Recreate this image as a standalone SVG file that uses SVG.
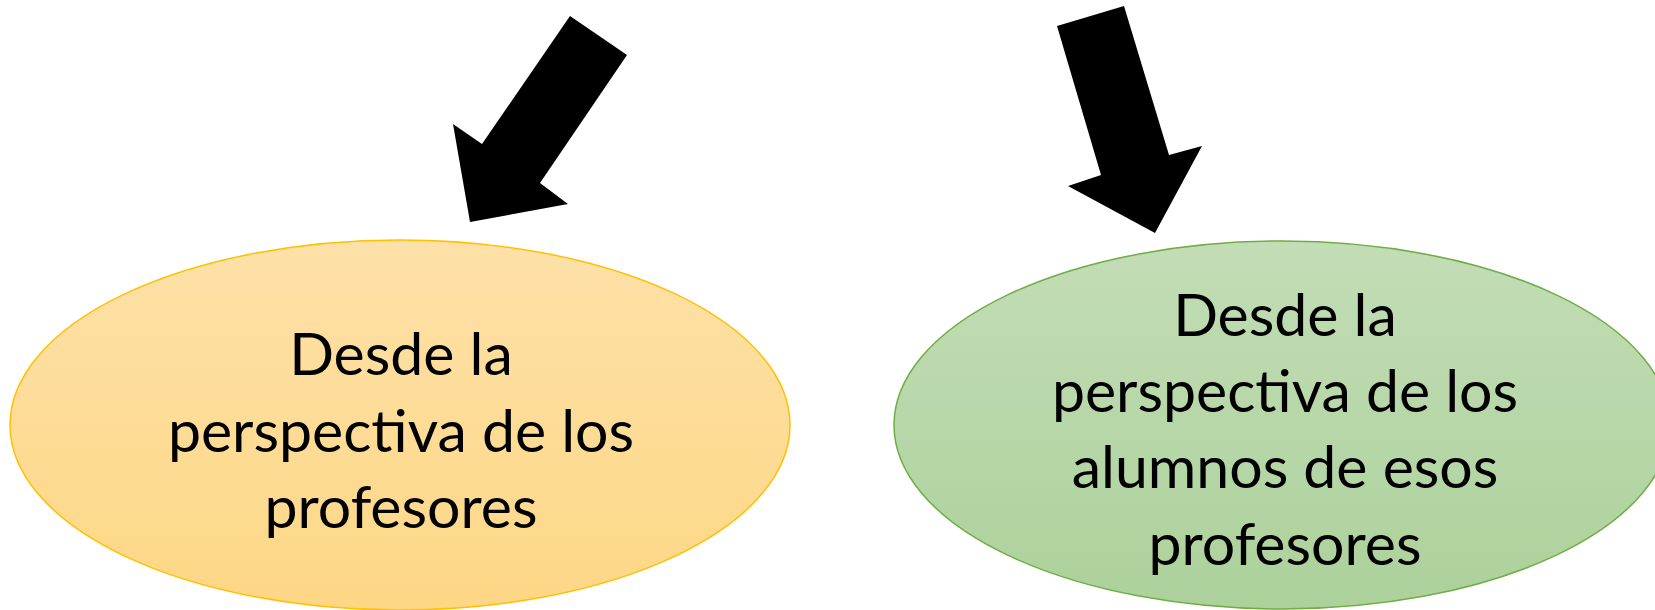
<svg xmlns="http://www.w3.org/2000/svg" width="1655" height="610" viewBox="0 0 1655 610">
<defs>
<linearGradient id="gOrange" x1="0" y1="0" x2="0" y2="1">
<stop offset="0" stop-color="#FDE1A8"/>
<stop offset="1" stop-color="#FDD785"/>
</linearGradient>
<linearGradient id="gGreen" x1="0" y1="0" x2="0" y2="1">
<stop offset="0" stop-color="#C3DDB6"/>
<stop offset="1" stop-color="#ACD19B"/>
</linearGradient>
<style>
.lbl{font-family:Lato,"Open Sans","Liberation Sans",sans-serif;font-size:59px;fill:#000;text-anchor:middle}
.arrow{fill:#000;stroke:none}
</style>
</defs>
<rect width="1655" height="610" fill="#fff"/>
<g id="connectors">
<polygon class="arrow" points="570,16 627,55 540,183 568,204 470,222 453,124 482,144"/>
<polygon class="arrow" points="1057,26 1124,6 1169,155 1202,146 1155,233 1068,186 1101,175"/>
</g>
<g id="node-profesores">
<ellipse cx="400" cy="425" rx="390" ry="185" fill="url(#gOrange)" stroke="#FFC000" stroke-width="1.5"/>
<text class="lbl" x="401" y="375">Desde la</text>
<text class="lbl" x="401" y="452">perspectiva de los</text>
<text class="lbl" x="401" y="528">profesores</text>
</g>
<g id="node-alumnos">
<ellipse cx="1282" cy="425" rx="388" ry="184" fill="url(#gGreen)" stroke="#70AD47" stroke-width="1.5"/>
<text class="lbl" x="1285" y="336">Desde la</text>
<text class="lbl" x="1285" y="412">perspectiva de los</text>
<text class="lbl" x="1285" y="488">alumnos de esos</text>
<text class="lbl" x="1285" y="565">profesores</text>
</g>
</svg>
